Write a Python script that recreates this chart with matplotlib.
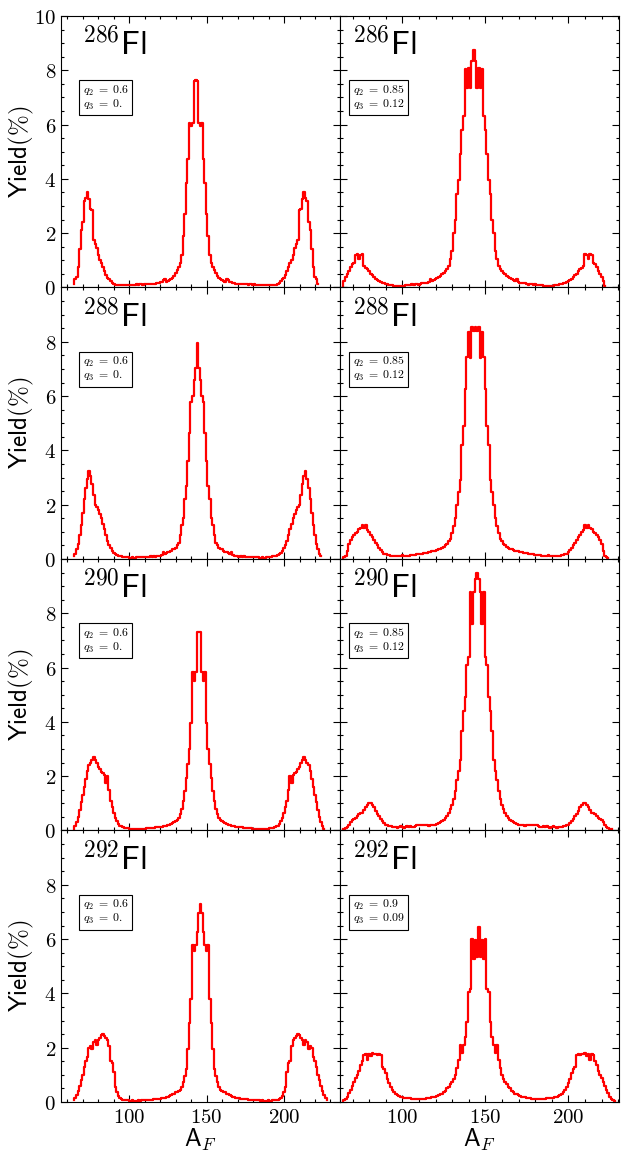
import numpy as np
import matplotlib
matplotlib.use('Agg')
import matplotlib.pyplot as plt
from matplotlib.ticker import MultipleLocator, FuncFormatter

plt.rcParams['mathtext.fontset'] = 'cm'

# fragment mass yields (%), light half only: A = 64 .. A_CN/2
# (the heavy half is the mirror image, Y(A) = Y(A_CN - A))
nuclei = [286, 288, 290, 292]
q_left = [('0.6', '0.'), ('0.6', '0.'), ('0.6', '0.'), ('0.6', '0.')]
q_right = [('0.85', '0.12'), ('0.85', '0.12'), ('0.85', '0.12'), ('0.9', '0.09')]

y286_a = [0.12, 0.3, 0.38, 0.75, 1.4, 2.1, 2.4, 3.2, 3.3, 3.5,
          3.25, 2.9, 2.85, 1.75, 1.6, 1.45, 1.2, 1.0, 0.9, 0.75,
          0.6, 0.45, 0.35, 0.3, 0.25, 0.15, 0.12, 0.1, 0.1, 0.1,
          0.08, 0.1, 0.08, 0.08, 0.08, 0.1, 0.08, 0.08, 0.1, 0.1,
          0.1, 0.12, 0.1, 0.12, 0.12, 0.1, 0.12, 0.12, 0.12, 0.12,
          0.12, 0.12, 0.12, 0.14, 0.15, 0.18, 0.2, 0.22, 0.26, 0.3,
          0.22, 0.25, 0.27, 0.3, 0.34, 0.42, 0.52, 0.65, 0.75, 0.9,
          1.2, 1.9, 2.7, 3.85, 4.73, 6.05, 5.95, 6.05, 7.6, 7.65]

y286_b = [0.06, 0.25, 0.4, 0.5, 0.6, 0.75, 0.85, 0.9, 1.2, 1.22,
          1.05, 1.2, 1.22, 0.8, 0.72, 0.68, 0.6, 0.5, 0.45, 0.38,
          0.3, 0.28, 0.25, 0.2, 0.18, 0.15, 0.12, 0.12, 0.1, 0.08,
          0.08, 0.07, 0.07, 0.06, 0.06, 0.06, 0.06, 0.06, 0.08, 0.08,
          0.1, 0.1, 0.12, 0.1, 0.12, 0.12, 0.1, 0.12, 0.15, 0.15,
          0.15, 0.18, 0.2, 0.32, 0.25, 0.28, 0.3, 0.35, 0.38, 0.42,
          0.5, 0.55, 0.6, 0.68, 0.8, 1.05, 1.36, 2.0, 2.5, 3.45,
          3.95, 4.9, 5.8, 6.3, 8.05, 7.35, 8.1, 7.35, 8.35, 8.75]

y288_a = [0.1, 0.2, 0.35, 0.55, 0.9, 1.25, 1.7, 2.2, 2.6, 2.95,
          3.25, 3.05, 2.75, 2.35, 2.0, 1.9, 1.8, 1.65, 1.5, 1.3,
          1.1, 0.9, 0.65, 0.5, 0.4, 0.3, 0.22, 0.18, 0.15, 0.12,
          0.1, 0.1, 0.08, 0.08, 0.06, 0.06, 0.05, 0.05, 0.06, 0.05,
          0.05, 0.06, 0.06, 0.08, 0.06, 0.08, 0.08, 0.08, 0.08, 0.08,
          0.1, 0.08, 0.1, 0.08, 0.1, 0.12, 0.12, 0.15, 0.25, 0.2,
          0.22, 0.25, 0.27, 0.3, 0.35, 0.38, 0.42, 0.5, 0.6, 0.9,
          1.25, 1.5, 2.2, 2.7, 3.6, 4.65, 5.8, 6.0, 6.6, 7.05,
          7.95]

y288_b = [0.04, 0.08, 0.12, 0.3, 0.55, 0.7, 0.8, 0.9, 0.95, 1.0,
          1.1, 1.15, 1.25, 1.15, 1.25, 1.08, 1.0, 0.9, 0.8, 0.7,
          0.6, 0.5, 0.4, 0.32, 0.25, 0.2, 0.17, 0.15, 0.13, 0.12,
          0.1, 0.1, 0.1, 0.1, 0.1, 0.12, 0.15, 0.1, 0.1, 0.12,
          0.12, 0.13, 0.13, 0.15, 0.15, 0.17, 0.17, 0.2, 0.2, 0.22,
          0.22, 0.22, 0.25, 0.25, 0.28, 0.3, 0.3, 0.32, 0.35, 0.38,
          0.4, 0.45, 0.5, 0.55, 0.65, 0.75, 0.96, 1.2, 1.5, 2.0,
          2.45, 2.9, 4.2, 4.9, 6.25, 7.45, 8.35, 7.4, 8.55, 8.4,
          8.55]

y290_a = [0.07, 0.15, 0.3, 0.5, 0.75, 1.05, 1.3, 1.6, 1.9, 2.2,
          2.4, 2.5, 2.6, 2.7, 2.6, 2.5, 2.35, 2.25, 2.15, 2.1,
          2.05, 1.75, 2.0, 1.5, 1.1, 0.85, 0.65, 0.45, 0.35, 0.25,
          0.18, 0.15, 0.12, 0.1, 0.1, 0.08, 0.07, 0.06, 0.05, 0.05,
          0.05, 0.04, 0.05, 0.05, 0.06, 0.05, 0.06, 0.08, 0.08, 0.1,
          0.1, 0.1, 0.1, 0.12, 0.12, 0.12, 0.12, 0.14, 0.15, 0.16,
          0.18, 0.2, 0.22, 0.24, 0.27, 0.3, 0.35, 0.4, 0.47, 0.6,
          0.8, 1.08, 1.45, 1.95, 2.45, 3.0, 3.95, 5.85, 5.5, 5.85,
          7.3, 7.3]

y290_b = [0.04, 0.06, 0.08, 0.12, 0.2, 0.3, 0.38, 0.42, 0.47, 0.52,
          0.62, 0.65, 0.65, 0.75, 0.85, 0.95, 1.0, 1.02, 0.95, 0.85,
          0.72, 0.6, 0.52, 0.42, 0.35, 0.28, 0.22, 0.2, 0.17, 0.15,
          0.13, 0.12, 0.12, 0.1, 0.12, 0.15, 0.12, 0.1, 0.12, 0.15,
          0.12, 0.15, 0.12, 0.13, 0.15, 0.2, 0.22, 0.22, 0.22, 0.2,
          0.22, 0.2, 0.18, 0.22, 0.2, 0.22, 0.22, 0.25, 0.28, 0.3,
          0.35, 0.4, 0.47, 0.55, 0.65, 0.8, 0.95, 1.15, 1.45, 1.85,
          2.2, 2.6, 3.65, 4.4, 4.9, 6.1, 6.4, 8.8, 7.6, 8.8,
          9.25, 9.5]

y292_a = [0.07, 0.15, 0.25, 0.4, 0.6, 0.8, 1.0, 1.3, 1.5, 1.65,
          2.0, 2.07, 1.95, 2.2, 2.3, 2.1, 2.3, 2.35, 2.45, 2.5,
          2.43, 2.35, 2.3, 2.05, 1.5, 1.45, 1.1, 0.55, 0.35, 0.22,
          0.15, 0.1, 0.08, 0.07, 0.06, 0.06, 0.05, 0.05, 0.06, 0.05,
          0.05, 0.05, 0.06, 0.05, 0.06, 0.06, 0.06, 0.07, 0.07, 0.08,
          0.08, 0.08, 0.1, 0.1, 0.12, 0.12, 0.12, 0.13, 0.15, 0.16,
          0.18, 0.2, 0.22, 0.25, 0.28, 0.3, 0.35, 0.35, 0.4, 0.45,
          0.55, 0.75, 0.95, 1.2, 1.95, 2.9, 3.8, 5.8, 5.55, 5.8,
          6.25, 6.95, 7.3]

y292_b = [0.04, 0.06, 0.1, 0.2, 0.32, 0.45, 0.6, 0.75, 0.9, 1.0,
          1.15, 1.35, 1.5, 1.72, 1.75, 1.55, 1.75, 1.7, 1.8, 1.78,
          1.75, 1.72, 1.75, 1.72, 1.3, 1.2, 1.05, 0.85, 0.7, 0.55,
          0.45, 0.38, 0.3, 0.25, 0.22, 0.18, 0.17, 0.15, 0.15, 0.15,
          0.13, 0.13, 0.12, 0.12, 0.1, 0.12, 0.12, 0.1, 0.12, 0.12,
          0.12, 0.13, 0.15, 0.15, 0.17, 0.18, 0.2, 0.22, 0.25, 0.28,
          0.3, 0.35, 0.42, 0.5, 0.55, 0.65, 0.75, 0.85, 1.0, 1.25,
          1.55, 2.1, 1.8, 2.1, 2.4, 2.95, 4.05, 4.15, 6.0, 5.25,
          5.95, 5.35, 6.45]

left_yields = [y286_a, y288_a, y290_a, y292_a]
right_yields = [y286_b, y288_b, y290_b, y292_b]


def full_distribution(half, a_cn):
    half = np.asarray(half)
    A = np.arange(64, a_cn - 64 + 1)
    Y = np.concatenate([half, half[-2::-1]])
    assert len(A) == len(Y)
    return A, Y


def int_label(v, p):
    return f'${v:.0f}$'


def int_label_no_top(v, p):
    return '' if v > 9 else f'${v:.0f}$'


fig, axes = plt.subplots(4, 2, figsize=(6.26, 11.59), dpi=100)
plt.subplots_adjust(left=0.0974, right=0.989, top=0.9862, bottom=0.0492,
                    wspace=0, hspace=0)

for row, n in enumerate(nuclei):
    for col in range(2):
        ax = axes[row, col]
        half = left_yields[row] if col == 0 else right_yields[row]
        q2, q3 = q_left[row] if col == 0 else q_right[row]
        A, Y = full_distribution(half, n)
        ax.step(A, Y, where='mid', color='red', lw=1.6)

        ax.set_ylim(0, 10)
        if col == 0:
            ax.set_xlim(55.8, 236.2)
        else:
            ax.set_xlim(62.5, 230.5)

        ax.xaxis.set_major_locator(MultipleLocator(50))
        ax.xaxis.set_minor_locator(MultipleLocator(10))
        ax.yaxis.set_major_locator(MultipleLocator(2))
        ax.yaxis.set_minor_locator(MultipleLocator(0.5))
        ax.tick_params(which='both', direction='in', top=True, right=True,
                       width=0.8, labelsize=15)
        ax.tick_params(which='major', length=5)
        ax.tick_params(which='minor', length=2.5)

        ax.xaxis.set_major_formatter(FuncFormatter(int_label))
        if row == 0:
            ax.yaxis.set_major_formatter(FuncFormatter(int_label))
        else:
            ax.yaxis.set_major_formatter(FuncFormatter(int_label_no_top))

        if row < 3:
            ax.tick_params(labelbottom=False)
        else:
            ax.set_xlabel(r'$\mathsf{A}_F$', fontsize=18)
            ax.xaxis.set_label_coords(0.5, -0.09)
        if col == 0:
            ax.set_ylabel(r'$\mathsf{Yield(\%)}$', fontsize=18)
            ax.yaxis.set_label_coords(-0.088, 0.5)
        else:
            ax.tick_params(labelleft=False)

        ax.text(69.5, 8.55, rf'$^{{{n}}}\mathsf{{Fl}}$', fontsize=24,
                ha='left', va='baseline')
        ax.text(70, 6.99, rf'$q_2\;=\;{q2}$' + '\n' + rf'$q_3\;=\;{q3}$',
                fontsize=8.5, ha='left', va='center', linespacing=1.0,
                bbox=dict(boxstyle='square,pad=0.3', fc='white', ec='black', lw=0.8))

        for s in ax.spines.values():
            s.set_linewidth(0.8)

fig.savefig('out.png', dpi=100)
